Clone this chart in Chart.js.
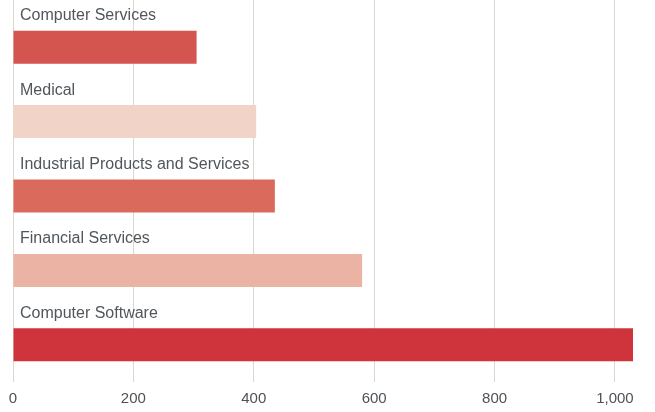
<!DOCTYPE html>
<html lang="en">
<head>
    <meta charset="UTF-8">
    <title>Industries</title>
    <script src="https://cdn.jsdelivr.net/npm/chart.js@4/dist/chart.umd.min.js"></script>
    <style>
        html, body { margin: 0; padding: 0; background: #fff; }
        #wrap { width: 655px; height: 412px; }
    </style>
</head>
<body>
    <div id="wrap"><canvas id="chart"></canvas></div>

    <script>
        const industries = ['Computer Services', 'Medical', 'Industrial Products and Services', 'Financial Services', 'Computer Software'];
        const counts = [305, 404, 435, 580, 1030];
        const barColors = ['#d4554f', '#f2d3c8', '#d96a5c', '#ebb3a4', '#cf343d'];
        const xTicks = [0, 200, 400, 600, 800, 1000];

        const gridColor = '#dcd8cf';

        // category names above each bar, plus grid lines carried up to the top edge
        const barLabels = {
            id: 'barLabels',
            beforeDatasetsDraw(chart) {
                const ctx = chart.ctx;
                const x = chart.scales.x;
                ctx.save();
                ctx.strokeStyle = gridColor;
                ctx.lineWidth = 1;
                xTicks.forEach(v => {
                    // same pixel alignment Chart.js uses for its own grid lines
                    const px = Math.round(x.getPixelForValue(v) - 0.5) + 0.5;
                    ctx.beginPath();
                    ctx.moveTo(px, 0);
                    ctx.lineTo(px, chart.chartArea.top);
                    ctx.stroke();
                });
                ctx.restore();
            },
            afterDatasetsDraw(chart) {
                const ctx = chart.ctx;
                const meta = chart.getDatasetMeta(0);
                ctx.save();
                ctx.font = '16px "Liberation Sans", Arial, sans-serif';
                ctx.fillStyle = '#51565b';
                ctx.textBaseline = 'alphabetic';
                meta.data.forEach((bar, i) => {
                    ctx.fillText(industries[i], chart.chartArea.left + 7, bar.y - 27);
                });
                ctx.restore();
            }
        };

        const ctx = document.getElementById('chart').getContext('2d');
        const myChart = new Chart(ctx, {
            type: 'bar',
            data: {
                labels: industries,
                datasets: [{
                    data: counts,
                    backgroundColor: barColors,
                    borderWidth: 0,
                    categoryPercentage: 1,
                    barPercentage: 0.444
                }]
            },
            options: {
                indexAxis: 'y',
                responsive: true,
                maintainAspectRatio: false,
                animation: false,
                layout: { padding: { left: 13, right: 22, top: 10, bottom: 0 } },
                plugins: { legend: { display: false }, tooltip: { enabled: false } },
                scales: {
                    x: {
                        min: 0,
                        max: Math.max(...counts),
                        afterBuildTicks: axis => {
                            axis.ticks = xTicks.map(v => ({ value: v }));
                        },
                        afterFit: axis => { axis.height = 30; },
                        grid: { color: gridColor, lineWidth: 1, drawTicks: false },
                        border: { display: false },
                        ticks: {
                            padding: 8,
                            color: '#4d5257',
                            font: { family: '"Liberation Sans", Arial, sans-serif', size: 15 },
                            callback: v => v.toLocaleString('en-US')
                        }
                    },
                    y: { display: false }
                }
            },
            plugins: [barLabels]
        });
    </script>
</body>
</html>
